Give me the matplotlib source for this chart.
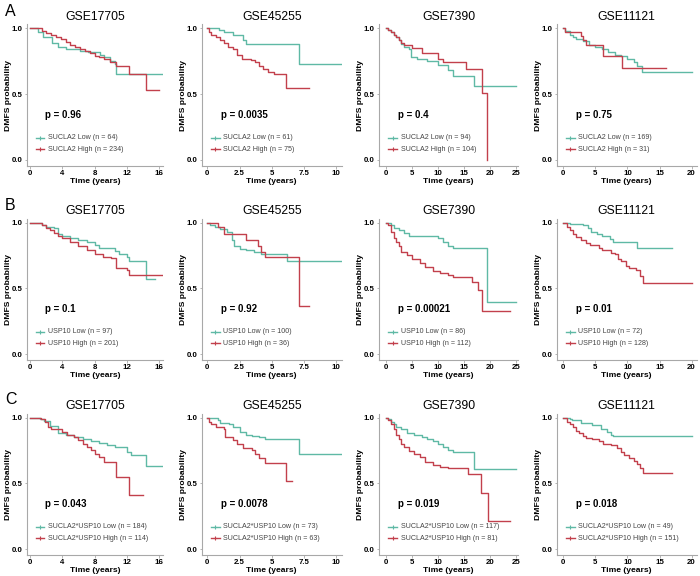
import matplotlib
matplotlib.use("Agg")
import matplotlib.pyplot as plt

plt.rcParams['font.family'] = ['Liberation Sans', 'DejaVu Sans']

# ---- data ----
datasets = ["GSE17705", "GSE45255", "GSE7390", "GSE11121"]
row_letters = ["A", "B", "C"]
row_genes = ["SUCLA2", "USP10", "SUCLA2*USP10"]

x_ticks = [[0, 4, 8, 12, 16], [0, 2.5, 5, 7.5, 10], [0, 5, 10, 15, 20, 25], [0, 5, 10, 15, 20]]
x_tick_labels = [["0", "4", "8", "12", "16"], ["0", "2.5", "5", "7.5", "10"],
                 ["0", "5", "10", "15", "20", "25"], ["0", "5", "10", "15", "20"]]
x_limits = [(-0.41, 16.46), (-0.44, 10.44), (-1.29, 25.4), (-1.03, 20.8)]

p_values = [["0.96", "0.0035", "0.4", "0.75"],
            ["0.1", "0.92", "0.00021", "0.01"],
            ["0.043", "0.0078", "0.019", "0.018"]]
n_low = [[64, 61, 94, 169], [97, 100, 86, 72], [184, 73, 117, 49]]
n_high = [[234, 75, 104, 31], [201, 36, 112, 128], [114, 63, 81, 151]]

# step curves: times where survival changes, survival after each change, last follow-up time
rowA_low_t = [[0, 1.0, 1.65, 2.7, 3.5, 4.5, 6.2, 7.2, 8.7, 9.1, 9.9, 10.5, 10.7],
              [0, 0.9, 1.3, 2.0, 2.8, 3.0, 7.1],
              [0, 0.5, 1, 1.5, 2, 2.5, 3, 3.5, 4.5, 4.8, 6, 8, 10, 12, 13, 17],
              [0, 0.3, 1, 1.5, 2, 3, 4, 5, 6, 7, 8, 9, 10, 11, 11.5, 12.2]]
rowA_low_s = [[1.0, 0.97, 0.93, 0.89, 0.855, 0.84, 0.83, 0.82, 0.80, 0.78, 0.75, 0.73, 0.65],
              [1.0, 0.99, 0.97, 0.95, 0.91, 0.88, 0.73],
              [1, 0.99, 0.97, 0.95, 0.93, 0.91, 0.88, 0.86, 0.84, 0.78, 0.77, 0.75, 0.72, 0.68, 0.64, 0.56],
              [1, 0.98, 0.95, 0.93, 0.92, 0.905, 0.875, 0.86, 0.84, 0.82, 0.80, 0.79, 0.77, 0.74, 0.71, 0.665]]
rowA_low_end = [16.3, 10.5, 25, 20]
rowA_high_t = [[0, 1.5, 2.0, 2.6, 3.2, 3.8, 4.4, 5.0, 5.6, 6.2, 6.8, 7.4, 8.0, 8.6, 9.2, 9.9, 10.7, 12.3, 14.4],
               [0, 0.1, 0.3, 0.7, 1.0, 1.3, 1.6, 2.0, 2.3, 2.7, 3.4, 3.7, 4.0, 4.3, 4.7, 5.2, 6.1],
               [0, 0.5, 1, 1.5, 2, 2.5, 3, 3.5, 5, 7, 10, 11, 15.5, 18.5, 19.4],
               [0, 0.3, 2.7, 3.0, 3.6, 6.2, 9.2]]
rowA_high_s = [[1.0, 0.98, 0.965, 0.95, 0.935, 0.915, 0.895, 0.875, 0.86, 0.845, 0.83, 0.81, 0.79, 0.78, 0.765, 0.745, 0.71, 0.65, 0.53],
               [1.0, 0.97, 0.95, 0.93, 0.91, 0.89, 0.86, 0.84, 0.80, 0.77, 0.76, 0.74, 0.71, 0.69, 0.665, 0.655, 0.55],
               [1, 0.99, 0.97, 0.95, 0.93, 0.91, 0.89, 0.87, 0.85, 0.81, 0.77, 0.74, 0.69, 0.51, 0.0],
               [1, 0.97, 0.94, 0.91, 0.875, 0.79, 0.695]]
rowA_high_end = [16.0, 7.9, 19.4, 16]

rowB_low_t = [[0, 1.5, 2, 3, 3.5, 4, 5, 6, 7, 8, 8.5, 10.5, 11, 12, 12.3, 14.4],
              [0, 0.2, 0.6, 1.0, 1.5, 1.9, 2.1, 2.5, 3.0, 3.6, 4.2, 6.2],
              [0, 1, 1.5, 2.5, 3.5, 4.5, 10, 11, 12, 13, 19.5],
              [0, 1, 3, 3.8, 4.3, 5.2, 6.0, 7.3, 7.8, 11.5]]
rowB_low_s = [[1, 0.98, 0.97, 0.96, 0.91, 0.895, 0.88, 0.87, 0.85, 0.83, 0.805, 0.785, 0.765, 0.74, 0.71, 0.57],
              [1, 0.98, 0.965, 0.95, 0.93, 0.87, 0.82, 0.80, 0.79, 0.78, 0.76, 0.71],
              [1, 0.98, 0.96, 0.945, 0.92, 0.90, 0.88, 0.855, 0.82, 0.81, 0.40],
              [1, 0.99, 0.98, 0.96, 0.93, 0.91, 0.895, 0.875, 0.855, 0.81]]
rowB_low_end = [15.5, 10.5, 25, 17]
rowB_high_t = [[0, 1.5, 2, 2.5, 3, 3.5, 4, 5, 6, 7, 8, 9, 10, 10.7, 12, 12.3],
               [0, 0.8, 1.3, 3.0, 3.9, 4.2, 4.5, 7.1],
               [0, 0.5, 1, 1.5, 2, 2.5, 3, 4, 5, 6.5, 7.5, 9, 10.5, 12, 13, 16.5, 17.7, 18.5],
               [0, 0.5, 1, 1.5, 2, 2.7, 3.5, 4.2, 5.5, 6, 7.5, 8, 8.5, 9, 9.8, 10.3, 11.3, 12, 12.5]]
rowB_high_s = [[1, 0.98, 0.96, 0.94, 0.92, 0.90, 0.88, 0.85, 0.82, 0.79, 0.765, 0.74, 0.73, 0.655, 0.64, 0.60],
               [1, 0.97, 0.91, 0.87, 0.82, 0.78, 0.735, 0.37],
               [1, 0.98, 0.93, 0.88, 0.855, 0.82, 0.78, 0.755, 0.725, 0.69, 0.665, 0.635, 0.615, 0.60, 0.585, 0.545, 0.49, 0.325],
               [1, 0.97, 0.945, 0.91, 0.89, 0.87, 0.845, 0.83, 0.81, 0.79, 0.77, 0.76, 0.72, 0.705, 0.67, 0.655, 0.64, 0.595, 0.54]]
rowB_high_end = [16.3, 7.9, 23.9, 20]

rowC_low_t = [[0, 1.2, 1.7, 2.5, 3.5, 4.5, 5.5, 6.5, 7.5, 8.5, 9.5, 10.5, 12, 12.5, 14.4],
              [0, 0.8, 1.0, 1.7, 2.0, 2.5, 3.0, 3.5, 4.0, 4.5, 7.1],
              [0, 0.5, 1, 1.5, 2, 3, 4, 5.5, 7, 8, 9, 10, 11, 12, 13, 17],
              [0, 1, 1.3, 2.8, 4.5, 5.8, 6.8, 7.5, 7.8]]
rowC_low_s = [[1, 0.99, 0.975, 0.935, 0.885, 0.87, 0.855, 0.84, 0.82, 0.805, 0.79, 0.775, 0.74, 0.715, 0.63],
              [1, 0.98, 0.96, 0.95, 0.925, 0.89, 0.87, 0.86, 0.85, 0.84, 0.72],
              [1, 0.99, 0.97, 0.95, 0.93, 0.91, 0.885, 0.865, 0.855, 0.835, 0.82, 0.80, 0.775, 0.755, 0.735, 0.61],
              [1, 0.99, 0.98, 0.96, 0.94, 0.91, 0.89, 0.87, 0.86]]
rowC_low_end = [16.3, 10.5, 25, 20]
rowC_high_t = [[0, 1.3, 1.8, 2.2, 2.6, 4.0, 4.6, 5.5, 6.0, 6.5, 7.0, 7.5, 8.0, 8.5, 9.2, 10.7, 12.3],
               [0, 0.1, 0.3, 0.7, 1.3, 1.4, 2.0, 2.3, 2.8, 3.5, 3.7, 4.0, 4.5, 6.1],
               [0, 0.5, 1, 1.5, 2, 2.5, 3, 3.5, 4.5, 5.5, 6.5, 7.5, 9, 10.5, 12, 15.8, 18.2, 19.6],
               [0, 0.5, 1, 1.5, 2, 2.5, 3, 3.5, 4.5, 5.5, 6.2, 7.5, 8.3, 9, 9.5, 10.3, 11, 11.5, 12, 12.5]]
rowC_high_s = [[1, 0.99, 0.97, 0.93, 0.91, 0.89, 0.87, 0.85, 0.83, 0.80, 0.78, 0.75, 0.72, 0.70, 0.66, 0.55, 0.41],
               [1, 0.97, 0.95, 0.93, 0.91, 0.85, 0.83, 0.80, 0.77, 0.75, 0.72, 0.69, 0.655, 0.52],
               [1, 0.98, 0.95, 0.91, 0.87, 0.835, 0.80, 0.78, 0.745, 0.72, 0.70, 0.66, 0.64, 0.625, 0.615, 0.575, 0.43, 0.215],
               [1, 0.97, 0.95, 0.925, 0.90, 0.88, 0.86, 0.845, 0.835, 0.82, 0.80, 0.79, 0.77, 0.74, 0.715, 0.69, 0.67, 0.645, 0.615, 0.58]]
rowC_high_end = [14, 6.6, 23.8, 17]

low_t = [rowA_low_t, rowB_low_t, rowC_low_t]
low_s = [rowA_low_s, rowB_low_s, rowC_low_s]
low_end = [rowA_low_end, rowB_low_end, rowC_low_end]
high_t = [rowA_high_t, rowB_high_t, rowC_high_t]
high_s = [rowA_high_s, rowB_high_s, rowC_high_s]
high_end = [rowA_high_end, rowB_high_end, rowC_high_end]

# ---- styling / layout ----
LOW_COL = "#5fb9a5"
HIGH_COL = "#c2404c"
AXIS_COL = "#a8a8a8"
W, H = 700, 576
col_left = [26.7, 201.7, 379, 556.7]
col_width = [136.3, 140, 139, 140]
row_bottom = [165.9, 360.2, 555.2]
ax_h = 141.6

fig = plt.figure(figsize=(W / 100, H / 100), dpi=100)


def step_xy(t, s, end):
    return list(t) + [end], list(s) + [s[-1]]


for r in range(3):
    for c in range(4):
        ax = fig.add_axes([col_left[c] / W, (H - row_bottom[r]) / H,
                           col_width[c] / W, ax_h / H])
        x, y = step_xy(low_t[r][c], low_s[r][c], low_end[r][c])
        ax.plot(x, y, drawstyle="steps-post", color=LOW_COL, lw=1.0)
        x, y = step_xy(high_t[r][c], high_s[r][c], high_end[r][c])
        ax.plot(x, y, drawstyle="steps-post", color=HIGH_COL, lw=1.0)

        ax.set_xlim(*x_limits[c])
        ax.set_ylim(-0.045, 1.03)
        ax.set_xticks(x_ticks[c])
        ax.set_xticklabels(x_tick_labels[c])
        ax.set_yticks([0, 0.5, 1.0])
        ax.set_yticklabels(["0.0", "0.5", "1.0"])
        for sp in ["top", "right"]:
            ax.spines[sp].set_visible(False)
        for sp in ["left", "bottom"]:
            ax.spines[sp].set_color(AXIS_COL)
            ax.spines[sp].set_linewidth(0.8)
        ax.tick_params(length=1.8, width=0.6, color=AXIS_COL, pad=1.2,
                       labelsize=5.7, labelcolor="black")
        for lab in ax.get_xticklabels() + ax.get_yticklabels():
            lab.set_fontweight("bold")

        ax.set_title(datasets[c], fontsize=8.8, pad=3.4)
        ax.set_xlabel("Time (years)", fontsize=6.1, fontweight="bold")
        ax.xaxis.set_label_coords(0.5, -0.082)
        ax.set_ylabel("DMFS probability", fontsize=6.1, fontweight="bold")
        ax.yaxis.set_label_coords(-0.105, 0.5)

        ax.text(0.137, 0.36, "p = " + p_values[r][c], transform=ax.transAxes,
                fontsize=7.0, fontweight="bold", va="center", ha="left")

        # legend drawn inside the panel
        entries = [(LOW_COL, f"{row_genes[r]} Low (n = {n_low[r][c]})", 0.20),
                   (HIGH_COL, f"{row_genes[r]} High (n = {n_high[r][c]})", 0.118)]
        for col, label, yy in entries:
            ax.plot([0.065, 0.13], [yy, yy], color=col, lw=1.0, transform=ax.transAxes)
            ax.plot([0.0975], [yy], marker="+", ms=3.5, mew=0.8, color=col,
                    transform=ax.transAxes)
            ax.text(0.155, yy, label, transform=ax.transAxes, fontsize=5.1,
                    color="#444444", va="center", ha="left")

    fig.text(5 / W, 1 - (12 + r * 193.7) / H, row_letters[r], fontsize=11.5,
             va="center", ha="left")

fig.savefig("out.png", dpi=100)
